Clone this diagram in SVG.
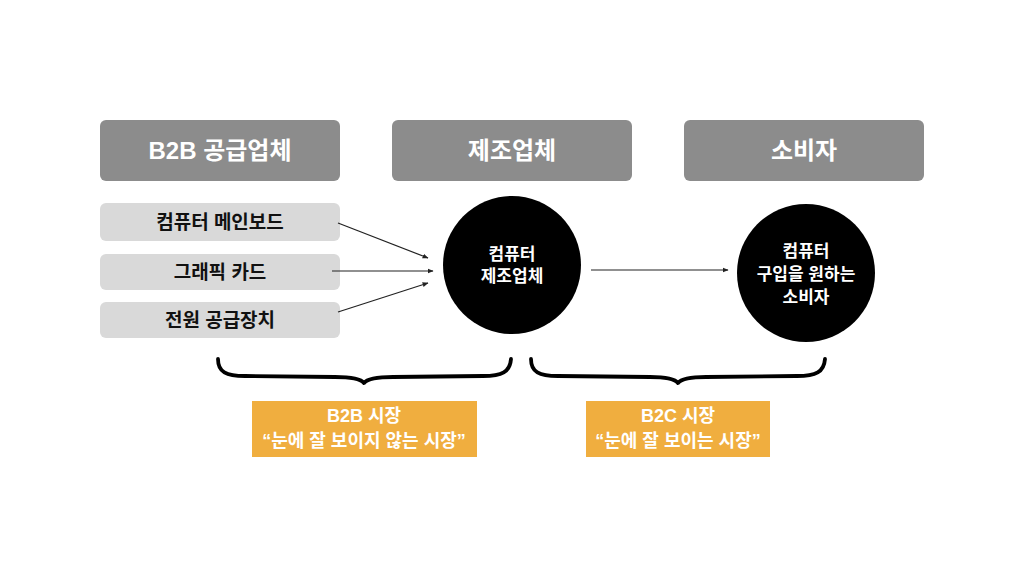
<svg xmlns="http://www.w3.org/2000/svg" width="1024" height="576" viewBox="0 0 1024 576">
<defs>
<style>
.hdr{fill:#8c8c8c}
.item{fill:#d9d9d9}
.mkt{fill:#f0ae3f}
.circ{fill:#000}
text{font-family:"Liberation Sans","Noto Sans CJK KR",sans-serif;font-weight:bold;text-anchor:middle}
.ht{fill:#fff;font-size:24px}
.it{fill:#111;font-size:19px}
.ct{fill:#fff;font-size:17px}
.mt{fill:#fff;font-size:18px}
.conn{stroke:#222;stroke-width:1.2;fill:none}
.brace{stroke:#000;stroke-width:3.8;fill:none;stroke-linecap:round;stroke-linejoin:round}
</style>
<marker id="ah" viewBox="0 0 10 10" refX="9" refY="5" markerWidth="6" markerHeight="6" orient="auto" markerUnits="userSpaceOnUse">
<path d="M0,1 L10,5 L0,9 Z" fill="#222"/>
</marker>
</defs>
<rect width="1024" height="576" fill="#fff"/>
<g id="hdr-b2b"><rect class="hdr" x="100" y="120" width="240" height="61" rx="6"/><text class="ht" x="220" y="159">B2B 공급업체</text></g>
<g id="hdr-mfg"><rect class="hdr" x="392" y="120" width="240" height="61" rx="6"/><text class="ht" x="512" y="159">제조업체</text></g>
<g id="hdr-consumer"><rect class="hdr" x="684" y="120" width="240" height="61" rx="6"/><text class="ht" x="804" y="159">소비자</text></g>
<g id="item-mainboard"><rect class="item" x="100" y="203" width="240" height="38" rx="6"/><text class="it" x="220" y="229">컴퓨터 메인보드</text></g>
<g id="item-gpu"><rect class="item" x="100" y="254" width="240" height="36" rx="6"/><text class="it" x="220" y="279">그래픽 카드</text></g>
<g id="item-psu"><rect class="item" x="100" y="302" width="240" height="36" rx="6"/><text class="it" x="220" y="327">전원 공급장치</text></g>
<g id="node-mfg"><circle class="circ" cx="512" cy="265" r="69"/><text class="ct" x="512" y="260">컴퓨터</text><text class="ct" x="512" y="282">제조업체</text></g>
<g id="node-consumer"><circle class="circ" cx="806" cy="273" r="69"/><text class="ct" x="806" y="257">컴퓨터</text><text class="ct" x="806" y="280">구입을 원하는</text><text class="ct" x="806" y="303">소비자</text></g>
<g id="connectors">
<line class="conn" x1="338" y1="223" x2="428" y2="258" marker-end="url(#ah)"/>
<line class="conn" x1="332" y1="271" x2="433" y2="271" marker-end="url(#ah)"/>
<line class="conn" x1="338" y1="312" x2="428" y2="283" marker-end="url(#ah)"/>
<line class="conn" x1="591" y1="270" x2="728" y2="270" marker-end="url(#ah)"/>
</g>
<g id="brace-b2b"><path class="brace" d="M218,359 C218,372 226,376 245,376 L335,377 C352,377 361,379 364,383 C367,379 376,377 393,377 L483,376 C502,376 510,372 511,359"/></g>
<g id="brace-b2c"><path class="brace" d="M531,359 C531,372 539,376 558,376 L650,377 C667,377 675,379 678,383 C681,379 689,377 706,377 L797,376 C816,376 824,372 825,359"/></g>
<g id="mkt-b2b"><rect class="mkt" x="252" y="401" width="225" height="56"/><text class="mt" x="364" y="422">B2B 시장</text><text class="mt" x="364" y="447">“눈에 잘 보이지 않는 시장”</text></g>
<g id="mkt-b2c"><rect class="mkt" x="586" y="401" width="184" height="56"/><text class="mt" x="678" y="422">B2C 시장</text><text class="mt" x="678" y="447">“눈에 잘 보이는 시장”</text></g>
</svg>
